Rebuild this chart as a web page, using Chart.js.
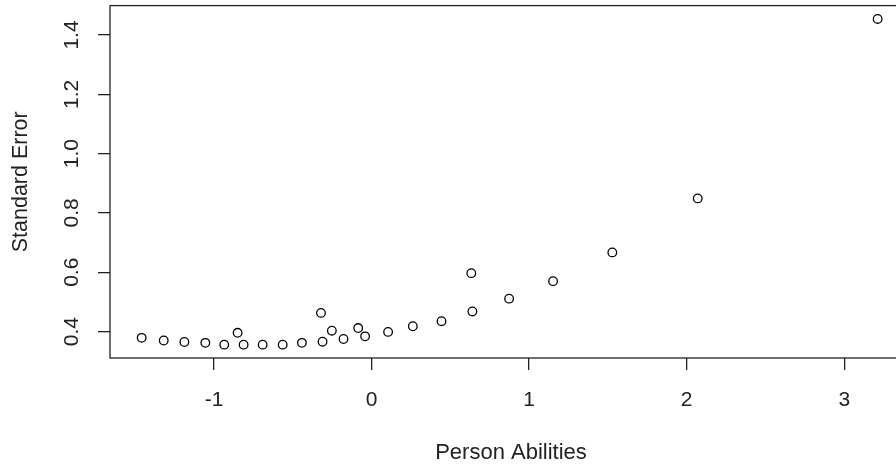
<!DOCTYPE html>
<html>
<head>
<meta charset="utf-8">
<script src="https://cdn.jsdelivr.net/npm/chart.js@4.4.1/dist/chart.umd.min.js"></script>
<style>
  html, body { margin: 0; padding: 0; background: #fff; overflow: hidden; }
  #wrap { width: 920px; height: 467px; }
</style>
</head>
<body>
<div id="wrap"><canvas id="seChart" width="920" height="467"></canvas></div>
<script>
// Person abilities (x) and their standard errors (y)
const abilities = [-1.459, -1.319, -1.188, -1.055, -0.935, -0.850, -0.812, -0.691, -0.564, -0.442,
                   -0.321, -0.311, -0.252, -0.178, -0.085, -0.041, 0.105, 0.262, 0.444, 0.640,
                   0.633, 0.873, 1.152, 1.528, 2.070, 3.212];
const stdErrors = [0.379, 0.370, 0.365, 0.362, 0.356, 0.396, 0.356, 0.356, 0.356, 0.362,
                   0.463, 0.366, 0.403, 0.375, 0.412, 0.384, 0.399, 0.418, 0.435, 0.468,
                   0.597, 0.511, 0.570, 0.667, 0.849, 1.454];
const xTicks = [-1, 0, 1, 2, 3];
const yTicks = [0.4, 0.6, 0.8, 1.0, 1.2, 1.4];

const points = abilities.map((a, i) => ({ x: a, y: stdErrors[i] }));
const axisColor = '#222';
const fontFamily = '"Liberation Sans", Arial, sans-serif';

// box around the plot region (R style)
const boxPlugin = {
    id: 'box',
    afterDraw(chart) {
        const { ctx, chartArea } = chart;
        ctx.save();
        ctx.strokeStyle = axisColor;
        ctx.lineWidth = 1.3;
        ctx.strokeRect(chartArea.left, chartArea.top, chartArea.right - chartArea.left, chartArea.bottom - chartArea.top);

        // rotated y tick labels
        const yScale = chart.scales.y;
        ctx.fillStyle = '#222';
        ctx.font = '21px ' + fontFamily;
        ctx.textAlign = 'center';
        ctx.textBaseline = 'middle';
        yTicks.forEach(v => {
            const py = yScale.getPixelForValue(v);
            ctx.save();
            ctx.translate(72, py);
            ctx.rotate(-Math.PI / 2);
            ctx.fillText(v.toFixed(1), 0, 0);
            ctx.restore();
        });
        ctx.restore();
    }
};

const ctx = document.getElementById('seChart').getContext('2d');
new Chart(ctx, {
    type: 'scatter',
    data: {
        datasets: [{
            data: points,
            pointStyle: 'circle',
            pointRadius: 4.3,
            pointBorderWidth: 1.3,
            borderColor: '#000',
            backgroundColor: 'rgba(0,0,0,0)'
        }]
    },
    options: {
        responsive: false,
        animation: false,
        events: [],
        layout: { padding: { left: 0, top: 4.5, right: 8, bottom: 0 } },
        plugins: {
            legend: { display: false },
            tooltip: { enabled: false }
        },
        scales: {
            x: {
                type: 'linear',
                min: -1.66,
                max: 3.43,
                afterFit: s => { s.height = 109; },
                afterBuildTicks: s => { s.ticks = xTicks.map(v => ({ value: v })); },
                border: { display: false },
                grid: { drawOnChartArea: false, drawTicks: true, tickLength: 12, color: axisColor, lineWidth: 1.3 },
                ticks: {
                    color: '#222',
                    padding: 18,
                    font: { family: fontFamily, size: 21 },
                    callback: v => String(v)
                },
                title: {
                    display: true,
                    text: 'Person Abilities',
                    color: '#222',
                    font: { family: fontFamily, size: 22 },
                    padding: { top: 0, bottom: 1 }
                }
            },
            y: {
                type: 'linear',
                min: 0.311,
                max: 1.499,
                afterFit: s => { s.width = 110; },
                afterBuildTicks: s => { s.ticks = yTicks.map(v => ({ value: v })); },
                border: { display: false },
                grid: { drawOnChartArea: false, drawTicks: true, tickLength: 12, color: axisColor, lineWidth: 1.3 },
                ticks: { display: false },
                title: {
                    display: true,
                    text: 'Standard Error',
                    color: '#222',
                    font: { family: fontFamily, size: 21.5 },
                    padding: { top: 8, bottom: 0 }
                }
            }
        }
    },
    plugins: [boxPlugin]
});
</script>
</body>
</html>
